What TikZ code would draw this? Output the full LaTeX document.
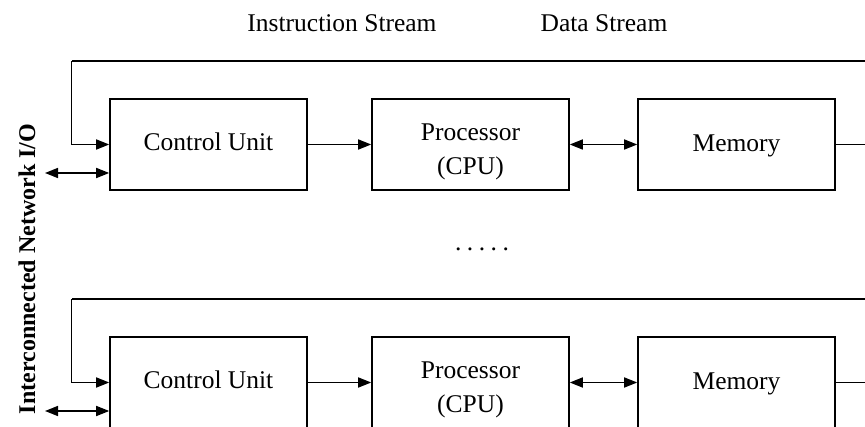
\documentclass[tikz,border=0pt]{standalone}
\usepackage{fontspec}
\setmainfont{Liberation Serif}
\usetikzlibrary{arrows.meta}
\begin{document}
\begin{tikzpicture}[x=1pt,y=-1pt,
  every node/.style={font=\fontsize{25.5}{34}\selectfont},
  unit/.style={draw,line width=1.6pt,minimum width=197pt,minimum height=91pt,inner sep=0pt},
  wire/.style={line width=1.6pt},
  tip/.style={-{Triangle[length=13pt,width=10pt]}},
  arr/.style={wire,tip},
  darr/.style={wire,{Triangle[length=13pt,width=10pt]}-{Triangle[length=13pt,width=10pt]}},
  label/.style={inner sep=0pt,align=center}]
\useasboundingbox (0,0) rectangle (865,427);
\clip (0,0) rectangle (865,427);
\fill[white] (0,0) rectangle (865,427);

% stream headings
\node[label] (instr) at (342,23) {Instruction Stream};
\node[label] (data) at (604,23) {Data Stream};

% side label
\node[label,rotate=90,font=\fontsize{24}{28}\selectfont\bfseries] (net) at (27,269) {Interconnected Network I/O};

% ellipsis between the two processing rows
\node[label,anchor=base] (dots) at (482,251) {.\hspace{5.5pt}.\hspace{5.5pt}.\hspace{5.5pt}.\hspace{5.5pt}.};

% one processing row: control unit, processor, memory
\foreach \r/\dy in {a/0,b/238}{
  \node[unit] (cu\r)   at (208.5,144.5+\dy) {};
  \node[unit] (cpu\r)  at (470.5,144.5+\dy) {};
  \node[unit] (mem\r)  at (736.5,144.5+\dy) {};
  \node[label] (cuT\r)  at ([yshift=2.5pt]cu\r)  {Control Unit};
  \node[label] (cpuT\r) at ([yshift=-7.5pt]cpu\r) {Processor\\(CPU)};
  \node[label] (memT\r) at ([yshift=-1pt]mem\r)  {Memory};
  \coordinate (loopR\r) at (870,61+\dy);
  \coordinate (loopL\r) at (71.5,61+\dy);
  \coordinate (memR\r)  at (870,144.5+\dy);
  \coordinate (io\r)    at (45,173+\dy);
  \draw[wire] (loopR\r) -- (loopL\r);
  \draw[arr] (loopL\r) |- (cu\r.west);
  \draw[wire] (mem\r.east) -- (memR\r);
  \draw[arr] (cu\r) -- (cpu\r);
  \draw[darr] (cpu\r) -- (mem\r);
  \draw[darr] (io\r) -- (io\r -| cu\r.west);
}
\end{tikzpicture}
\end{document}
